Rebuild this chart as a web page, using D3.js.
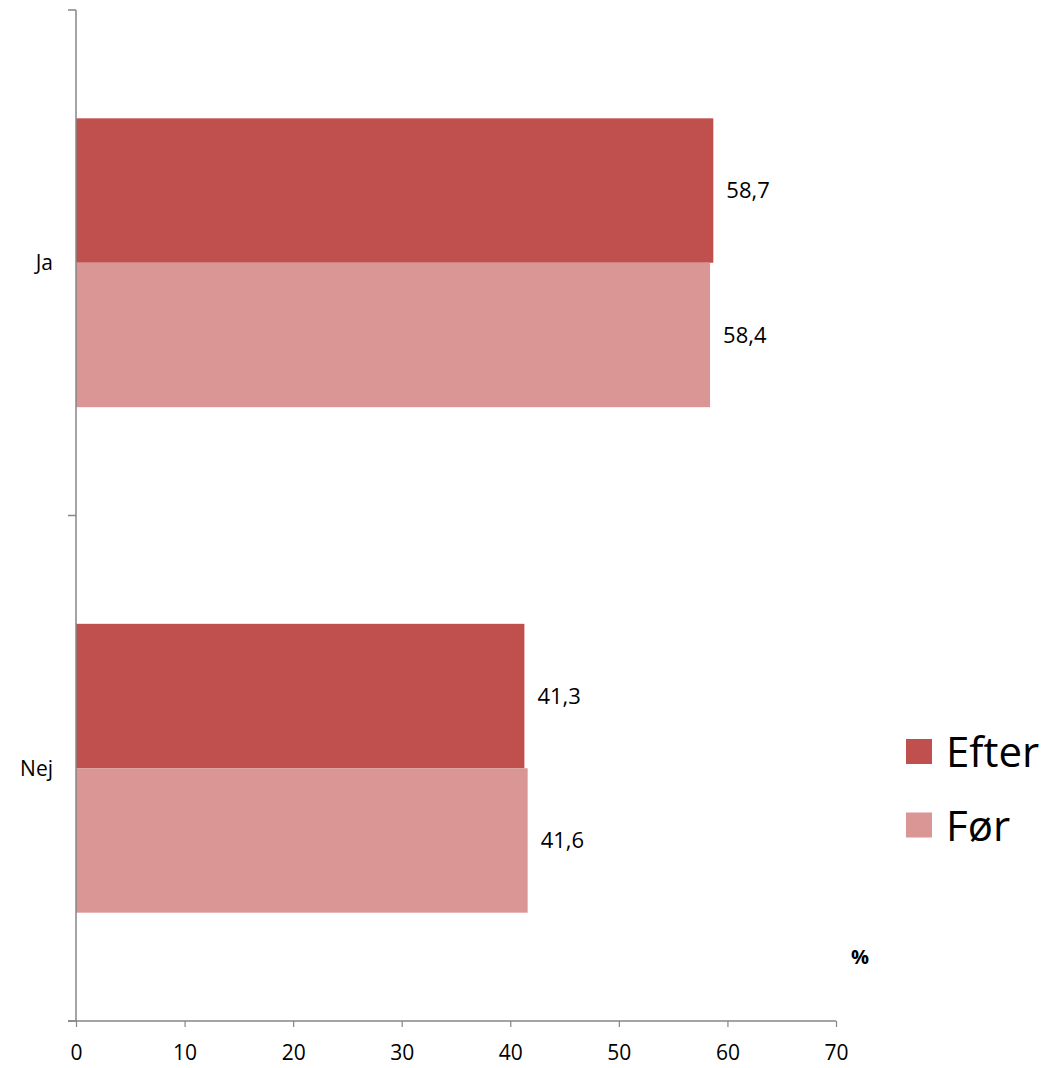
<!DOCTYPE html>
<html><head><meta charset="utf-8">
<script src="https://cdn.jsdelivr.net/npm/d3@7"></script>
<style>body{margin:0;background:#fff}svg{display:block}text{font-family:"Open Sans","Noto Sans",sans-serif}</style>
</head><body>
<script>
const categories = ["Ja", "Nej"];
const seriesNames = ["Efter", "Før"];
const efter = [58.7, 41.3];
const foer = [58.4, 41.6];
const labelsEfter = ["58,7", "41,3"];
const labelsFoer = ["58,4", "41,6"];
const xTicks = [0, 10, 20, 30, 40, 50, 60, 70];
const colors = ["#C0504D", "#D99694"];

const W = 1048, H = 1068;
const svg = d3.select("body").append("svg").attr("width", W).attr("height", H);
const x = d3.scaleLinear().domain([0, 70]).range([76, 836]);
const y = d3.scaleBand().domain(categories).range([10, 1021]);
const inner = d3.scaleBand().domain(seriesNames).range([0, y.bandwidth()]).paddingInner(0).paddingOuter(0.75);

const series = [efter, foer];
const labs = [labelsEfter, labelsFoer];
const g = svg.append("g");
categories.forEach((c, i) => {
  seriesNames.forEach((s, j) => {
    const v = series[j][i];
    g.append("rect")
      .attr("x", x(0)).attr("y", y(c) + inner(s))
      .attr("width", x(v) - x(0)).attr("height", inner.bandwidth())
      .attr("fill", colors[j]);
    g.append("text")
      .attr("x", x(v) + 13).attr("y", y(c) + inner(s) + inner.bandwidth() / 2)
      .attr("dy", "0.35em").attr("font-size", 22).attr("fill", "#000")
      .text(labs[j][i]);
  });
});

// x axis
const xa = svg.append("g").attr("transform", "translate(0,1021)")
  .call(d3.axisBottom(x).tickValues(xTicks).tickSize(6).tickPadding(18).tickSizeOuter(0));
xa.select(".domain").attr("stroke", "#868686").attr("stroke-width", 1.5).attr("d", "M68,0H836");
xa.selectAll(".tick line").attr("stroke", "#868686").attr("stroke-width", 1.2);
xa.selectAll(".tick text").attr("font-size", 21).attr("fill", "#000").attr("font-family", '"Open Sans",sans-serif');

// y axis
const ya = svg.append("g").attr("transform", "translate(76,0)");
ya.append("line").attr("x1", 0).attr("x2", 0).attr("y1", 10).attr("y2", 1021).attr("stroke", "#868686").attr("stroke-width", 1.5);
const bounds = [10].concat(categories.map(c => y(c) + y.bandwidth()));
ya.selectAll(".yt").data(bounds).enter().append("line")
  .attr("x1", -8).attr("x2", 0).attr("y1", d => d).attr("y2", d => d)
  .attr("stroke", "#868686").attr("stroke-width", 1.5);
ya.selectAll(".yl").data(categories).enter().append("text")
  .attr("x", -23).attr("y", d => y(d) + y.bandwidth() / 2).attr("dy", "0.35em")
  .attr("text-anchor", "end").attr("font-size", 21).text(d => d);

// percent sign
svg.append("text").attr("x", 860).attr("y", 957).attr("dy", "0.35em")
  .attr("text-anchor", "middle").attr("font-size", 20).attr("font-weight", "bold").text("%");

// legend
const leg = svg.append("g");
seriesNames.forEach((s, j) => {
  const cy = 751.5 + j * 73.5;
  leg.append("rect").attr("x", 906).attr("y", cy - 12.5).attr("width", 26).attr("height", 25).attr("fill", colors[j]);
  leg.append("text").attr("x", 946).attr("y", cy + 15.5).attr("font-size", 42).text(s);
});
</script>
</body></html>
